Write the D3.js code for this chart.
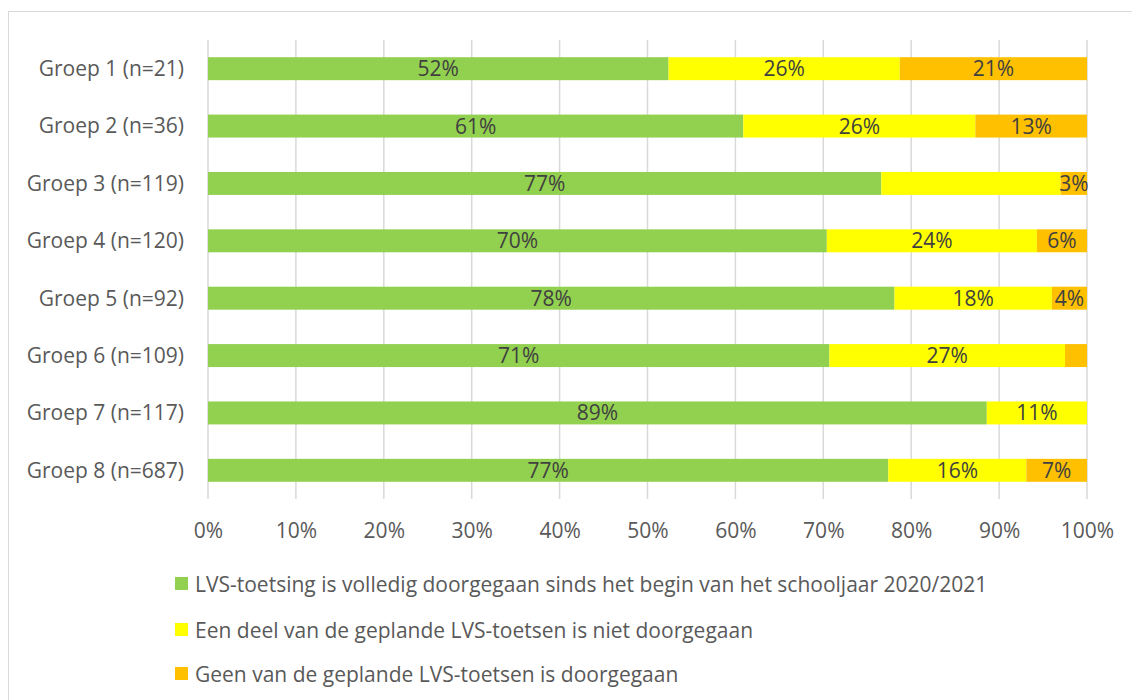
<!DOCTYPE html>
<html>
<head>
<meta charset="utf-8">
<script src="https://cdn.jsdelivr.net/npm/d3@7/dist/d3.min.js"></script>
<style>
  html, body { margin: 0; padding: 0; background: #fff; }
  svg { display: block; }
  text { font-family: "Open Sans", sans-serif; }
</style>
</head>
<body>
<svg id="chart" width="1132" height="700"></svg>
<script>
const categories = ["Groep 1 (n=21)", "Groep 2 (n=36)", "Groep 3 (n=119)", "Groep 4 (n=120)",
                    "Groep 5 (n=92)", "Groep 6 (n=109)", "Groep 7 (n=117)", "Groep 8 (n=687)"];
const seriesNames = [
  "LVS-toetsing is volledig doorgegaan sinds het begin van het schooljaar 2020/2021",
  "Een deel van de geplande LVS-toetsen is niet doorgegaan",
  "Geen van de geplande LVS-toetsen is doorgegaan"
];
const volledig = [52.4, 60.9, 76.6, 70.4, 78.1, 70.7, 88.6, 77.4];
const deel     = [26.3, 26.4, 20.4, 23.9, 17.9, 26.8, 11.4, 15.7];
const geen     = [21.3, 12.7,  3.0,  5.7,  4.0,  2.5,  0.0,  6.9];
// labels not shown in the reference: [seriesIndex, categoryIndex]
const hiddenLabels = [[1, 2], [2, 5], [2, 6]];
const xTicks = [0, 10, 20, 30, 40, 50, 60, 70, 80, 90, 100];
const colors = ["#92d050", "#ffff00", "#ffc000"];

(function () {
const FONT = "'Open Sans', sans-serif";
const FS = "21px";
const svg = d3.select("#chart");
const mLeft = 208, mRight = 1087, mTop = 40, mBottom = 499;

// chart border
svg.append("rect").attr("x", 8.5).attr("y", 11.5).attr("width", 1140).attr("height", 700)
  .attr("fill", "none").attr("stroke", "#d9d9d9").attr("stroke-width", 1);

const x = d3.scaleLinear().domain([0, 100]).range([mLeft, mRight]);
const y = d3.scaleBand().domain(categories).range([mTop, mBottom]).paddingInner(0.6).paddingOuter(0.3);

// gridlines
svg.append("g").selectAll("line").data(xTicks).join("line")
  .attr("x1", d => x(d)).attr("x2", d => x(d))
  .attr("y1", mTop).attr("y2", mBottom)
  .attr("stroke", "#d9d9d9").attr("stroke-width", 1.5);

// x axis labels
const xAxis = d3.axisBottom(x).tickValues(xTicks).tickFormat(d => d + "%").tickSize(0).tickPadding(0);
const gx = svg.append("g").attr("transform", `translate(0, ${mBottom})`).call(xAxis);
gx.select(".domain").remove();
gx.selectAll("text").attr("y", 38.5).attr("dy", 0).attr("fill", "#595959")
  .style("font-size", FS).style("font-family", FONT);

// y axis labels
const yAxis = d3.axisLeft(y).tickSize(0).tickPadding(0);
const gy = svg.append("g").attr("transform", `translate(${mLeft - 24}, 0)`).call(yAxis);
gy.select(".domain").remove();
gy.selectAll("text").attr("fill", "#595959").attr("dy", "0.35em")
  .style("font-size", FS).style("font-family", FONT);

// stacked data
const rows = categories.map((c, i) => ({ cat: c, s0: volledig[i], s1: deel[i], s2: geen[i] }));
const stack = d3.stack().keys(["s0", "s1", "s2"])(rows);

const g = svg.append("g");
stack.forEach((layer, si) => {
  g.append("g").selectAll("rect").data(layer).join("rect")
    .attr("x", d => x(d[0]))
    .attr("width", d => Math.max(0, x(d[1]) - x(d[0])))
    .attr("y", d => y(d.data.cat))
    .attr("height", y.bandwidth())
    .attr("fill", colors[si]);
});
stack.forEach((layer, si) => {
  g.append("g").selectAll("text").data(layer.map((d, ci) => ({ d, ci })).filter(o =>
      (o.d[1] - o.d[0]) > 0 && !hiddenLabels.some(h => h[0] === si && h[1] === o.ci)))
    .join("text")
    .attr("x", o => (x(o.d[0]) + x(o.d[1])) / 2)
    .attr("y", o => y(o.d.data.cat) + y.bandwidth() / 2)
    .attr("dy", "0.36em")
    .attr("text-anchor", "middle")
    .attr("fill", "#404040")
    .style("font-size", FS)
    .text(o => Math.round(o.d[1] - o.d[0]) + "%");
});

// legend
const legendY = [584, 630, 674];
const lg = svg.append("g");
seriesNames.forEach((n, i) => {
  lg.append("rect").attr("x", 175).attr("y", legendY[i] - 7).attr("width", 13).attr("height", 13)
    .attr("fill", colors[i]);
  lg.append("text").attr("x", 195).attr("y", legendY[i]).attr("dy", "0.36em")
    .attr("fill", "#595959").style("font-size", FS).text(n);
});
})();
</script>
</body>
</html>
